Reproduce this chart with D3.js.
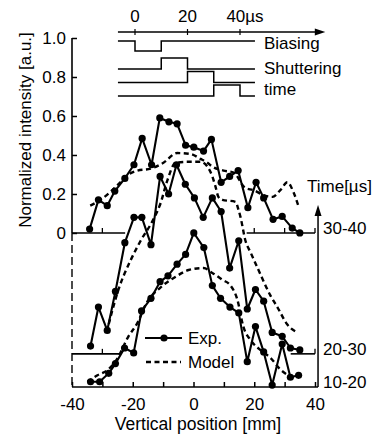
<!DOCTYPE html>
<html><head><meta charset="utf-8">
<script src="https://cdn.jsdelivr.net/npm/d3@7"></script>
<style>
html,body{margin:0;padding:0;background:#fff;}
svg{display:block;font-family:"Liberation Sans",Arial,Helvetica,sans-serif;}
</style></head><body>
<svg id="c" width="378" height="437"></svg>
<script>
// ---------- data ----------
const xTickLabels = [-40, -20, 0, 20, 40];
const xTicks = [-40, -30, -20, -10, 0, 10, 20, 30, 40];
const yTicks = [0, 0.2, 0.4, 0.6, 0.8, 1.0];
const timeRanges = ["30-40", "20-30", "10-20"];
const offsets = [0, -0.62, -0.79];
const timeTicks = [0, 20, 40];
const biasLow = [0, 10];
const shutterWindows = [[10, 20], [20, 30], [30, 40]];
const timingLabels = ["Biasing", "Shuttering", "time"];

const exp3040Pos = [-34.2,-31.3,-28.4,-25.9,-22.6,-19.6,-16.9,-13.8,-11.1,-8.1,-5.4,-2.6,0.1,3.3,5.9,9.1,11.9,14.7,17.9,20.6,23.1,26.2,29.2,32.5,35.0];
const exp3040Val = [0.02,0.17,0.14,0.215,0.28,0.35,0.485,0.35,0.59,0.57,0.56,0.45,0.44,0.42,0.48,0.26,0.29,0.32,0.13,0.26,0.18,0.07,0.085,0.025,0.0];
const exp2030Pos = [-33.9,-31.3,-28.4,-25.7,-22.6,-19.6,-17.0,-14.0,-11.0,-8.2,-5.6,-2.7,0.3,3.2,6.2,9.1,11.9,14.9,17.7,20.4,23.1,25.9,29.2,31.9,35.0];
const exp2030Val = [0.04,0.24,0.12,0.32,0.57,0.70,0.70,0.56,0.91,0.82,0.97,0.87,0.80,0.70,0.80,0.73,0.44,0.58,0.23,0.33,0.27,0.11,0.09,0.03,0.02];
const exp1020Pos = [-33.9,-30.9,-27.9,-25.7,-22.7,-19.7,-17.1,-14.0,-11.0,-8.4,-5.4,-2.6,0.1,3.4,6.2,8.9,12.0,14.9,17.7,20.4,23.1,25.9,29.2,31.9,34.6];
const exp1020Val = [0.027,0.027,0.07,0.12,0.20,0.175,0.39,0.455,0.54,0.57,0.63,0.68,0.79,0.715,0.52,0.455,0.41,0.38,0.13,0.31,0.18,0.01,0.22,0.05,0.06];

const model3040Pos = [-34,-30.6,-24.7,-21.4,-18.4,-14.1,-9.9,-5.4,-1,2.3,4.6,6.2,9.9,13.2,17.1,19.7,23.7,26,28.6,30.9,32.9,34.5];
const model3040Val = [0.14,0.17,0.25,0.30,0.32,0.33,0.36,0.41,0.405,0.38,0.36,0.34,0.32,0.31,0.23,0.22,0.19,0.185,0.22,0.26,0.21,0.14];
const model2030Pos = [-28.6,-24.7,-20.7,-17.4,-13.2,-10.9,-8.6,-5.9,-2,2.3,4.6,6.2,7.2,8.2,9.5,13.8,14.8,15.5,17.1,18.8,21.4,25.3,27.6,30.9,34.2];
const model2030Val = [0.11,0.33,0.48,0.58,0.69,0.77,0.89,0.98,0.985,0.985,0.96,0.91,0.86,0.805,0.79,0.78,0.74,0.70,0.58,0.52,0.43,0.30,0.24,0.15,0.11];
const model1020Pos = [-34.9,-31.6,-28.3,-25.3,-21.4,-18.4,-15.5,-10.9,-5.9,-1.6,3.3,6.2,9.5,12.2,14.4,16.4,18.8,22,25.3,28.6,32.9];
const model1020Val = [0.027,0.06,0.087,0.14,0.26,0.33,0.43,0.51,0.565,0.60,0.61,0.585,0.55,0.52,0.45,0.31,0.24,0.19,0.15,0.09,0.046];

const baseSeg3040 = [[-40, -22.5], [17.5, 40]];
const baseSeg2030 = [[-40, -24], [32, 40]];

// ---------- build ----------
const expSeries = [
  {pos: exp3040Pos, val: exp3040Val, off: offsets[0]},
  {pos: exp2030Pos, val: exp2030Val, off: offsets[1]},
  {pos: exp1020Pos, val: exp1020Val, off: offsets[2]}
];
const modelSeries = [
  {pos: model3040Pos, val: model3040Val, off: offsets[0]},
  {pos: model2030Pos, val: model2030Val, off: offsets[1]},
  {pos: model1020Pos, val: model1020Val, off: offsets[2]}
];

const svg = d3.select("#c");
const FS = 17;
const x = d3.scaleLinear().domain([-40, 40]).range([72, 315]);
const y = d3.scaleLinear().domain([offsets[2], 1.0]).range([387, 38]);

// y axis (solid above zero)
const yAx = svg.append("g").attr("transform", `translate(${x(-40)},0)`)
  .call(d3.axisLeft(y).tickValues(yTicks).tickSize(-5).tickPadding(6)
    .tickFormat(d => d === 0 ? "0" : d.toFixed(1)));
yAx.select(".domain").remove();
yAx.selectAll("line").attr("stroke", "#000").attr("stroke-width", 1.5);
yAx.selectAll("text").attr("font-size", FS).attr("font-family", null).attr("fill", "#000");
svg.append("line").attr("x1", x(-40)).attr("x2", x(-40)).attr("y1", y(1.0)).attr("y2", y(0))
  .attr("stroke", "#000").attr("stroke-width", 1.6);
svg.append("line").attr("x1", x(-40)).attr("x2", x(-40)).attr("y1", y(0)).attr("y2", y(offsets[2]))
  .attr("stroke", "#000").attr("stroke-width", 1.4).attr("stroke-dasharray", "8,4");

// bottom axis
const xAx = svg.append("g").attr("transform", `translate(0,${y(offsets[2])})`)
  .call(d3.axisBottom(x).tickValues(xTicks).tickSize(-5).tickPadding(11)
    .tickFormat(d => xTickLabels.includes(d) ? String(d) : ""));
xAx.select(".domain").remove();
xAx.selectAll("line").attr("stroke", "#000").attr("stroke-width", 1.5);
xAx.selectAll("text").attr("font-size", FS).attr("font-family", null).attr("fill", "#000");
svg.append("line").attr("x1", x(-40)).attr("x2", x(41)).attr("y1", y(offsets[2])).attr("y2", y(offsets[2]))
  .attr("stroke", "#000").attr("stroke-width", 1.6);

// offset baselines with small ticks
function baseline(segs, off) {
  segs.forEach(s => {
    svg.append("line").attr("x1", x(s[0])).attr("x2", x(s[1])).attr("y1", y(off)).attr("y2", y(off))
      .attr("stroke", "#000").attr("stroke-width", 1.6);
    xTicks.filter(t => t > -40 && t >= s[0] && t <= s[1]).forEach(t => {
      svg.append("line").attr("x1", x(t)).attr("x2", x(t)).attr("y1", y(off)).attr("y2", y(off) - 5)
        .attr("stroke", "#000").attr("stroke-width", 1.3);
    });
  });
}
baseline(baseSeg3040, offsets[0]);
baseline(baseSeg2030, offsets[1]);

// right arrow
const ax = x(41);
svg.append("line").attr("x1", ax).attr("x2", ax).attr("y1", y(offsets[2])).attr("y2", y(0) - 20)
  .attr("stroke", "#000").attr("stroke-width", 1.5);
svg.append("path").attr("d", `M${ax},${y(0) - 28} L${ax - 3.5},${y(0) - 17} L${ax + 3.5},${y(0) - 17} Z`).attr("fill", "#000");

// titles
svg.append("text").attr("transform", "translate(31,130) rotate(-90)").attr("text-anchor", "middle")
  .attr("font-size", FS).text("Normalized intensity [a.u.]");
svg.append("text").attr("x", 198).attr("y", 430).attr("text-anchor", "middle")
  .attr("font-size", 17.5).text("Vertical position [mm]");
svg.append("text").attr("x", 307).attr("y", y(0) - 47).attr("dy", "0.35em")
  .attr("font-size", FS).text("Time[\u00b5s]");
timeRanges.forEach((t, i) => {
  svg.append("text").attr("x", 323).attr("y", y(offsets[i]) - 4.5).attr("dy", "0.35em")
    .attr("font-size", FS).text(t);
});

// models
const line = off => d3.line().x(d => x(d[0])).y(d => y(d[1] + off)).curve(d3.curveMonotoneX);
modelSeries.forEach(s => {
  svg.append("path").datum(d3.zip(s.pos, s.val)).attr("d", line(s.off))
    .attr("fill", "none").attr("stroke", "#000").attr("stroke-width", 2.4).attr("stroke-dasharray", "5,3.5");
});
// experiments
expSeries.forEach(s => {
  const pts = d3.zip(s.pos, s.val);
  svg.append("path").datum(pts).attr("d", d3.line().x(d => x(d[0])).y(d => y(d[1] + s.off)))
    .attr("fill", "none").attr("stroke", "#000").attr("stroke-width", 2.1).attr("stroke-linejoin", "round");
  svg.append("g").selectAll("circle").data(pts).join("circle")
    .attr("cx", d => x(d[0])).attr("cy", d => y(d[1] + s.off)).attr("r", 3.6).attr("fill", "#000");
});

// legend
svg.append("line").attr("x1", 145).attr("x2", 182).attr("y1", 338).attr("y2", 338).attr("stroke", "#000").attr("stroke-width", 2.1);
svg.append("circle").attr("cx", 164).attr("cy", 338).attr("r", 3.6).attr("fill", "#000");
svg.append("text").attr("x", 188).attr("y", 338).attr("dy", "0.35em").attr("font-size", FS).text("Exp.");
svg.append("line").attr("x1", 146).attr("x2", 181).attr("y1", 362).attr("y2", 362).attr("stroke", "#000")
  .attr("stroke-width", 2.4).attr("stroke-dasharray", "5,3.5");
svg.append("text").attr("x", 188).attr("y", 362).attr("dy", "0.35em").attr("font-size", FS).text("Model");

// timing diagram
const tx = d3.scaleLinear().domain([0, 40]).range([135, 240]);
const t0 = -6.5, t1 = 45.7;
const axY = 32;
svg.append("line").attr("x1", tx(t0)).attr("x2", tx(70)).attr("y1", axY).attr("y2", axY).attr("stroke", "#000").attr("stroke-width", 1.3);
svg.append("path").attr("d", `M${tx(72.5)},${axY} L${tx(68.5)},${axY - 3.5} L${tx(68.5)},${axY + 3.5} Z`).attr("fill", "#000");
timeTicks.forEach(t => {
  svg.append("line").attr("x1", tx(t)).attr("x2", tx(t)).attr("y1", axY - 3).attr("y2", axY + 3).attr("stroke", "#000").attr("stroke-width", 1.2);
  svg.append("text").attr("x", tx(t) + (t === 40 ? 5 : 0)).attr("y", 16).attr("dy", "0.35em").attr("text-anchor", "middle")
    .attr("font-size", FS).text(t === 40 ? t + "\u00b5s" : String(t));
});
const wave = d3.line().x(d => tx(d[0])).y(d => d[1]);
const bHi = 41, bLo = 51;
svg.append("path").datum([[t0, bHi], [biasLow[0], bHi], [biasLow[0], bLo], [biasLow[1], bLo], [biasLow[1], bHi], [t1, bHi]])
  .attr("d", wave).attr("fill", "none").attr("stroke", "#000").attr("stroke-width", 1.5);
const rowY = d3.scaleLinear().domain([0, 2]).range([69, 96]);
shutterWindows.forEach((w, i) => {
  const b = rowY(i), h = b - 11;
  svg.append("path").datum([[t0, b], [w[0], b], [w[0], h], [w[1], h], [w[1], b], [t1, b]])
    .attr("d", wave).attr("fill", "none").attr("stroke", "#000").attr("stroke-width", 1.5);
});
const labY = [43, 68, 89];
timingLabels.forEach((l, i) => {
  svg.append("text").attr("x", 264).attr("y", labY[i]).attr("dy", "0.35em").attr("font-size", FS).text(l);
});
</script>
</body></html>
